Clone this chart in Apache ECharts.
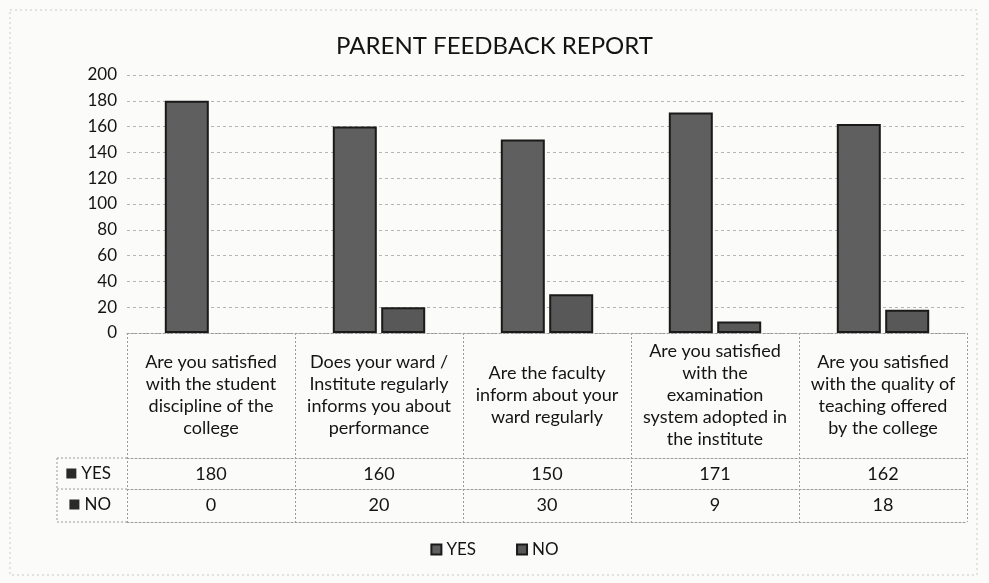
<!DOCTYPE html>
<html>
<head>
<meta charset="utf-8">
<title>Parent Feedback Report</title>
<script src="https://cdn.jsdelivr.net/npm/echarts@6/dist/echarts.min.js"></script>
<style>
  html, body { margin: 0; padding: 0; background: #fbfbfa; }
  #chart { width: 989px; height: 583px; }
</style>
</head>
<body>
<div id="chart"></div>
<script>
// data
const categories = [
  "Are you satisfied\nwith the student\ndiscipline of the\ncollege",
  "Does your ward /\nInstitute regularly\ninforms you about\nperformance",
  "Are the faculty\ninform about your\nward regularly",
  "Are you satisfied\nwith the\nexamination\nsystem adopted in\nthe institute",
  "Are you satisfied\nwith the quality of\nteaching offered\nby the college"
];
const yesValues = [180, 160, 150, 171, 162];
const noValues = [0, 20, 30, 9, 18];
const seriesNames = ["YES", "NO"];
const yMin = 0, yMax = 200, yStep = 20;

// layout (px)
const W = 989, H = 583;
const gridLeft = 127, gridRight = 22, gridTop = 75, gridBottom = 250;
const axisY = H - gridBottom;      // zero line
const labelRowH = 125;             // category text cells
const yesRowH = 31;
const noRowH = 33;
const headLeft = 57;               // left edge of the YES / NO header cells

const FONT = "Lato, 'Open Sans', sans-serif";
const INK = "#141414";
const tableLine = { color: "#9a9a9a", type: [2, 2], width: 1 };

const chart = echarts.init(document.getElementById("chart"));

function rowAxis(offset, values, name) {
  return {
    type: "category",
    position: "bottom",
    offset: offset,
    data: values.map(String),
    axisLine: { show: true, lineStyle: tableLine },
    axisTick: { show: false },
    axisLabel: {
      interval: 0, margin: 16, verticalAlign: "middle",
      color: INK, fontFamily: FONT, fontSize: 18
    },
    name: name ? "{sq|}{gap|}" + name : "",
    nameLocation: "start",
    nameGap: 16,
    nameTextStyle: {
      color: INK, fontFamily: FONT, fontSize: 17,
      verticalAlign: "top", padding: [7, 0, 0, 0],
      rich: {
        sq: { width: 10, height: 10, backgroundColor: "#2a2a2a" },
        gap: { width: 5 }
      }
    }
  };
}

function hLine(y) {
  return {
    type: "line", silent: true,
    shape: { x1: headLeft, y1: y, x2: gridLeft, y2: y },
    style: { stroke: tableLine.color, lineDash: [2, 2], lineWidth: 1 }
  };
}

// a zero value leaves no visible bar in the report
function barData(values) {
  return values.map(v => v === 0 ? { value: v, itemStyle: { borderWidth: 0, opacity: 0 } } : v);
}

chart.setOption({
  backgroundColor: "#fbfbfa",
  animation: false,
  textStyle: { fontFamily: FONT },
  title: {
    text: "PARENT FEEDBACK REPORT",
    left: "center",
    top: 29,
    textStyle: { color: INK, fontFamily: FONT, fontSize: 24, fontWeight: "normal" }
  },
  legend: {
    bottom: 20,
    left: "center",
    icon: "rect",
    itemWidth: 10,
    itemHeight: 10,
    itemGap: 40,
    data: seriesNames,
    textStyle: { color: INK, fontFamily: FONT, fontSize: 17 }
  },
  grid: { left: gridLeft, right: gridRight, top: gridTop, bottom: gridBottom },
  xAxis: [
    {
      type: "category",
      position: "bottom",
      data: categories,
      axisLine: { show: true, lineStyle: tableLine },
      axisTick: { show: true, length: labelRowH + yesRowH + noRowH, lineStyle: tableLine },
      axisLabel: {
        interval: 0, margin: labelRowH / 2, verticalAlign: "middle", align: "center",
        color: INK, fontFamily: FONT, fontSize: 18, lineHeight: 22
      }
    },
    rowAxis(labelRowH, yesValues, "YES"),
    rowAxis(labelRowH + yesRowH, noValues, "NO"),
    {
      type: "category",
      position: "bottom",
      offset: labelRowH + yesRowH + noRowH,
      data: categories,
      axisLine: { show: true, lineStyle: tableLine },
      axisTick: { show: false },
      axisLabel: { show: false }
    }
  ],
  yAxis: {
    type: "value",
    min: yMin,
    max: yMax,
    interval: yStep,
    axisLine: { show: false },
    axisTick: { show: false },
    axisLabel: { margin: 10, color: INK, fontFamily: FONT, fontSize: 17 },
    splitLine: { lineStyle: { color: "#b4b4b4", type: [3, 3], width: 1 } }
  },
  series: [
    {
      name: seriesNames[0],
      type: "bar",
      data: barData(yesValues),
      barWidth: 44,
      barGap: "10%",
      itemStyle: { color: "#5f5f5f", borderColor: "#1a1a1a", borderWidth: 2 }
    },
    {
      name: seriesNames[1],
      type: "bar",
      data: barData(noValues),
      barWidth: 44,
      itemStyle: { color: "#585858", borderColor: "#1a1a1a", borderWidth: 2 }
    }
  ],
  graphic: [
    hLine(axisY + labelRowH),
    hLine(axisY + labelRowH + yesRowH),
    hLine(axisY + labelRowH + yesRowH + noRowH),
    {
      type: "line", silent: true,
      shape: { x1: headLeft, y1: axisY + labelRowH, x2: headLeft, y2: axisY + labelRowH + yesRowH + noRowH },
      style: { stroke: tableLine.color, lineDash: [2, 2], lineWidth: 1 }
    },
    {
      type: "rect", silent: true,
      shape: { x: 10, y: 10, width: W - 22, height: H - 18 },
      style: { fill: null, stroke: "#c8c8c8", lineDash: [2, 3], lineWidth: 1 }
    }
  ]
});
</script>
</body>
</html>
